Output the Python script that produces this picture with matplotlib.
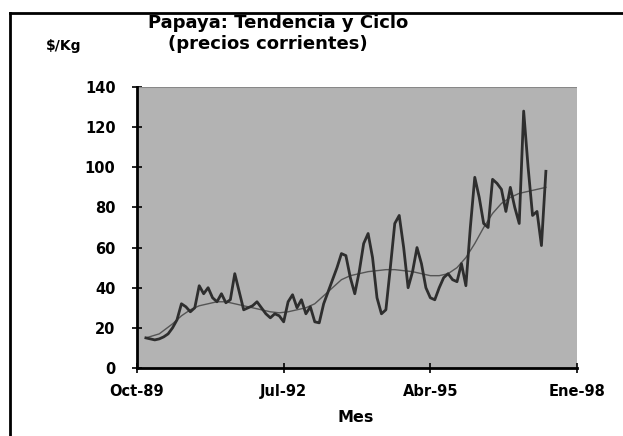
import matplotlib
matplotlib.use("Agg")
from matplotlib import pyplot as plt
from matplotlib.lines import Line2D

# months counted from Oct-89 (month 0)
ciclo_mes = list(range(2, 93))
ciclo = [15, 14.5, 14, 14.5, 15.5, 17, 20, 24, 32, 30.5,
         28, 30, 41, 37, 40, 35, 33, 37, 32.5, 34,
         47, 38, 29, 30, 31, 33, 30, 27, 25, 27,
         26, 23, 33, 36.5, 30, 34, 27, 30.5, 23, 22.5,
         32, 38, 44, 50, 57, 56, 45, 37, 48, 62,
         67, 55, 35, 27, 29, 50, 72, 76, 60, 40,
         48, 60, 52, 40, 35, 34, 40, 45, 47, 44,
         43, 52, 41, 70, 95, 85, 72, 70, 94, 92,
         89, 78, 90, 80, 72, 128, 100, 76, 78, 61,
         98]

tend_mes = [2, 5, 8, 10, 12, 14, 16, 18, 20, 22, 24, 26, 28, 30, 32, 34, 36, 38,
            40, 42, 44, 46, 48, 50, 52, 54, 56, 58, 60, 62, 64, 66, 68, 70, 72,
            74, 76, 78, 80, 82, 84, 86, 88, 90, 92]
tendencia = [15, 17, 22, 26, 29, 31, 32, 33, 33, 32, 31, 30, 29, 28, 27.5, 28, 29, 30,
             32, 36, 40, 44, 46, 47, 48, 48.5, 49, 49, 48.5, 48, 47, 46, 46, 47, 50,
             55, 62, 70, 77, 82, 85, 87, 88, 89, 90]

tick_mes = [0, 33, 66, 99]
tick_txt = ["Oct-89", "Jul-92", "Abr-95", "Ene-98"]

fig = plt.figure(figsize=(6.23, 4.36), dpi=100)
ax = fig.add_axes([137/623, 68/436, 440/623, 281/436])
ax.set_facecolor("#b3b3b3")

ax.plot(tend_mes, tendencia, color="#555555", lw=1.0)
ax.plot(ciclo_mes, ciclo, color="#2e2e2e", lw=2.0, solid_joinstyle="round")

ax.set_xlim(0, 99)
ax.set_ylim(0, 140)
ax.set_yticks(range(0, 141, 20))
ax.set_xticks(tick_mes)
ax.set_xticklabels(tick_txt)
for lab in ax.get_xticklabels() + ax.get_yticklabels():
    lab.set_fontweight("heavy")
    lab.set_fontsize(10.5)
ax.tick_params(axis="both", direction="inout", length=7, width=1.2)
ax.tick_params(axis="y", pad=12)
ax.tick_params(axis="x", pad=8)

for s in ["top", "right"]:
    ax.spines[s].set_visible(False)
ax.spines["left"].set_linewidth(2)
ax.spines["bottom"].set_linewidth(2)
# thin grey edge of the plot area at the top
ax.add_line(Line2D([0, 1], [1, 1], transform=ax.transAxes, color="#888888", lw=1.5))

fig.text(278/623, 1 - 23/436, "Papaya: Tendencia y Ciclo", ha="center", va="center",
         fontsize=13, fontweight="heavy")
fig.text(268/623, 1 - 44/436, "(precios corrientes)", ha="center", va="center",
         fontsize=13, fontweight="heavy")
fig.text(64/623, 1 - 46/436, "$/Kg", ha="center", va="center", fontsize=10, fontweight="heavy")
fig.text(356/623, 1 - 417/436, "Mes", ha="center", va="center", fontsize=11.5, fontweight="heavy")

# frame of the chart (top and left edges visible)
fig.add_artist(Line2D([10/623, 1], [1 - 13/436, 1 - 13/436], transform=fig.transFigure,
                      color="black", lw=2))
fig.add_artist(Line2D([10/623, 10/623], [0, 1 - 13/436], transform=fig.transFigure,
                      color="black", lw=2))

fig.savefig("out.png", dpi=100)
